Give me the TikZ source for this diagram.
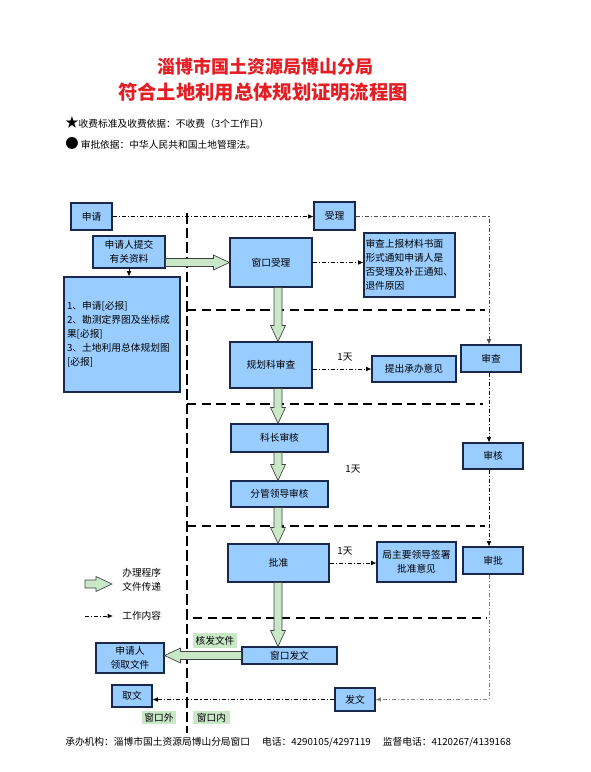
\documentclass[tikz,border=0pt]{standalone}
\usepackage{fontspec}
\setmainfont{Noto Sans CJK SC}
\usetikzlibrary{arrows.meta,calc}

\definecolor{boxblue}{RGB}{153,204,255}
\definecolor{boxline}{RGB}{25,40,75}
\definecolor{flowgreen}{RGB}{200,232,200}
\definecolor{titlered}{RGB}{228,30,36}

\tikzset{
  box/.style={draw=boxline, fill=boxblue, line width=0.8pt, inner sep=1pt, font=\fontsize{7.3}{10.5}\selectfont},
  sz/.style 2 args={minimum width=#1*0.75pt, minimum height=#2*0.75pt},
  flowarrow/.style={fill=flowgreen, draw=black!75, line width=0.5pt, line join=miter},
  work/.style={line width=0.6pt, dash pattern=on 3pt off 1.5pt on 0.8pt off 1.5pt, -{Latex[length=4pt,width=3.5pt]}},
  link/.style={line width=0.6pt, -{Latex[length=4pt,width=3.5pt]}},
  divider/.style={line width=2.2pt, dash pattern=on 7pt off 4pt},
  tag/.style={fill=flowgreen, inner sep=1.5pt, font=\fontsize{7.3}{9}\selectfont},
  note/.style={font=\fontsize{7.3}{10.5}\selectfont, inner sep=0pt},
  heading/.style={text=titlered, inner sep=0pt},
}

% green block arrow from #1 to #2
\newcommand{\flow}[2]{%
  \coordinate (fa) at (#1);
  \coordinate (fb) at (#2);
  \coordinate (fh) at ($(fb)!12pt!(fa)$);
  \filldraw[flowarrow] ($(fa)!3pt!90:(fb)$) -- ($(fh)!3pt!90:(fb)$) -- ($(fh)!5.6pt!90:(fb)$) -- (fb)
    -- ($(fh)!5.6pt!-90:(fb)$) -- ($(fh)!3pt!-90:(fb)$) -- ($(fa)!3pt!-90:(fb)$) -- cycle;
}

\begin{document}
\begin{tikzpicture}[x=0.75pt,y=-0.75pt]
\useasboundingbox (0,0) rectangle (590,772);

\node[heading, font=\bfseries\fontsize{13.5}{16}\selectfont] (title1) at (265,67) {淄博市国土资源局博山分局};
\node[heading, font=\bfseries\fontsize{14.5}{17}\selectfont] (title2) at (263,92) {符合土地利用总体规划证明流程图};

\node[note, anchor=west] (fee) at (65,122) {{\fontsize{10}{10}\selectfont ★}收费标准及收费依据：不收费（3个工作日）};
\node[note, anchor=west] (law) at (65,143) {{\fontsize{10}{10}\selectfont ●} 审批依据：中华人民共和国土地管理法。};

% window line and stage lines
\draw[divider, dash pattern=on 8pt off 3pt] (187,213) -- (187,733);
\foreach \y/\xa/\xb in {310/187/485, 404/187/483, 526/187/485, 618/193/487}
  \draw[divider] (\xa,\y) -- (\xb,\y);

% boxes
\node[box, sz={41}{27}] (shenqing) at (91.5,216.5) {申请};
\node[box, sz={72}{32}, align=center] (tijiao) at (129,252) {申请人提交\\有关资料};
\node[box, sz={116}{115}, text width=110*0.75pt, align=left] (cailiao) at (122,334.5)
  {1、申请[必报]\\2、勘测定界图及坐标成\\果[必报]\\3、土地利用总体规划图\\{}[必报]};
\node[box, sz={41}{28}] (shouli) at (334.5,216) {受理};
\node[box, sz={82}{49}] (chuangkou) at (271,262.5) {窗口受理};
\node[box, sz={91}{64}, text width=88*0.75pt, align=left] (tongzhi) at (409.5,265)
  {审查上报材料书面\\形式通知申请人是\\否受理及补正通知、\\退件原因};
\node[box, sz={82}{46}] (guihua) at (271,365) {规划科审查};
\node[box, sz={84}{26}] (tichu) at (414,369) {提出承办意见};
\node[box, sz={60}{27}] (shencha) at (491,358.5) {审查};
\node[box, sz={97}{28}] (kezhang) at (279.5,438) {科长审核};
\node[box, sz={60}{26}] (shenhe) at (493,456) {审核};
\node[box, sz={97}{26}] (fenguan) at (279.5,494) {分管领导审核};
\node[box, sz={101}{38}] (pizhun) at (278.5,563) {批准};
\node[box, sz={79}{40}, align=center] (qianshu) at (416.5,562) {局主要领导签署\\批准意见};
\node[box, sz={60}{27}] (shenpi) at (493,560.5) {审批};
\node[box, sz={95}{17}] (chuangfa) at (289.5,655.5) {窗口发文};
\node[box, sz={68}{30}, align=center] (lingqu) at (130,658) {申请人\\领取文件};
\node[box, sz={40}{22}] (quwen) at (132,696) {取文};
\node[box, sz={40}{23}] (fawen) at (355,699.5) {发文};

\node[note] (day1) at (345,357) {1天};
\node[note] (day2) at (353,469) {1天};
\node[note] (day3) at (345,551) {1天};

\node[tag, minimum width=44*0.75pt, minimum height=15*0.75pt] (hefa) at (215,640.5) {核发文件};
\node[tag, minimum width=32*0.75pt, minimum height=13*0.75pt] (chuangwai) at (159,717.5) {窗口外};
\node[tag, minimum width=37*0.75pt, minimum height=13*0.75pt] (chuangnei) at (211.5,717.5) {窗口内};

% work content
\coordinate (rcol) at (489,0);
\draw[work] (shenqing.east) -- (shenqing.east -| shouli.west);
\draw[work, draw=black!70] (shouli.east) -- (shouli.east -| rcol) -- (shencha.north -| rcol);
\draw[work] (chuangkou.east) -- (chuangkou.east -| tongzhi.west);
\draw[work] (guihua.east |- tichu.west) -- (tichu.west);
\draw[work] (shencha.south -| rcol) -- (shenhe.north -| rcol);
\draw[work] (shenhe.south -| rcol) -- (shenpi.north -| rcol);
\draw[work] (pizhun.east) -- (pizhun.east -| qianshu.west);
\draw[work, draw=gray] (shenpi.south -| rcol) -- (fawen.east -| rcol) -- (fawen.east);
\draw[work] (fawen.west) -- (fawen.west -| quwen.east);
\draw[link] (tijiao.south) -- (tijiao.south |- cailiao.north);

% document flow
\coordinate (spine) at (278,0);
\flow{tijiao.east |- chuangkou.west}{chuangkou.west}
\foreach \a/\b in {chuangkou/guihua, guihua/kezhang, kezhang/fenguan, fenguan/pizhun, pizhun/chuangfa}
  {\flow{\a.south -| spine}{\b.north -| spine}}
\flow{chuangfa.west}{lingqu.east |- chuangfa.west}

% legend
\coordinate (lgA) at (85,584);
\coordinate (lgB) at (112,584);
\coordinate (lgC) at (85,616);
\coordinate (lgD) at (113,616);
\flow{lgA}{lgB}
\draw[work] (lgC) -- (lgD);
\node[note, anchor=west, align=left] (lgflow) at (122,580) {办理程序\\文件传递};
\node[note, anchor=west] (lgwork) at (122,616) {工作内容};

\node[note, anchor=west] (footer) at (65,742)
  {承办机构：淄博市国土资源局博山分局窗口\hspace{9pt}电话：4290105/4297119\hspace{9pt}监督电话：4120267/4139168};
\end{tikzpicture}
\end{document}
